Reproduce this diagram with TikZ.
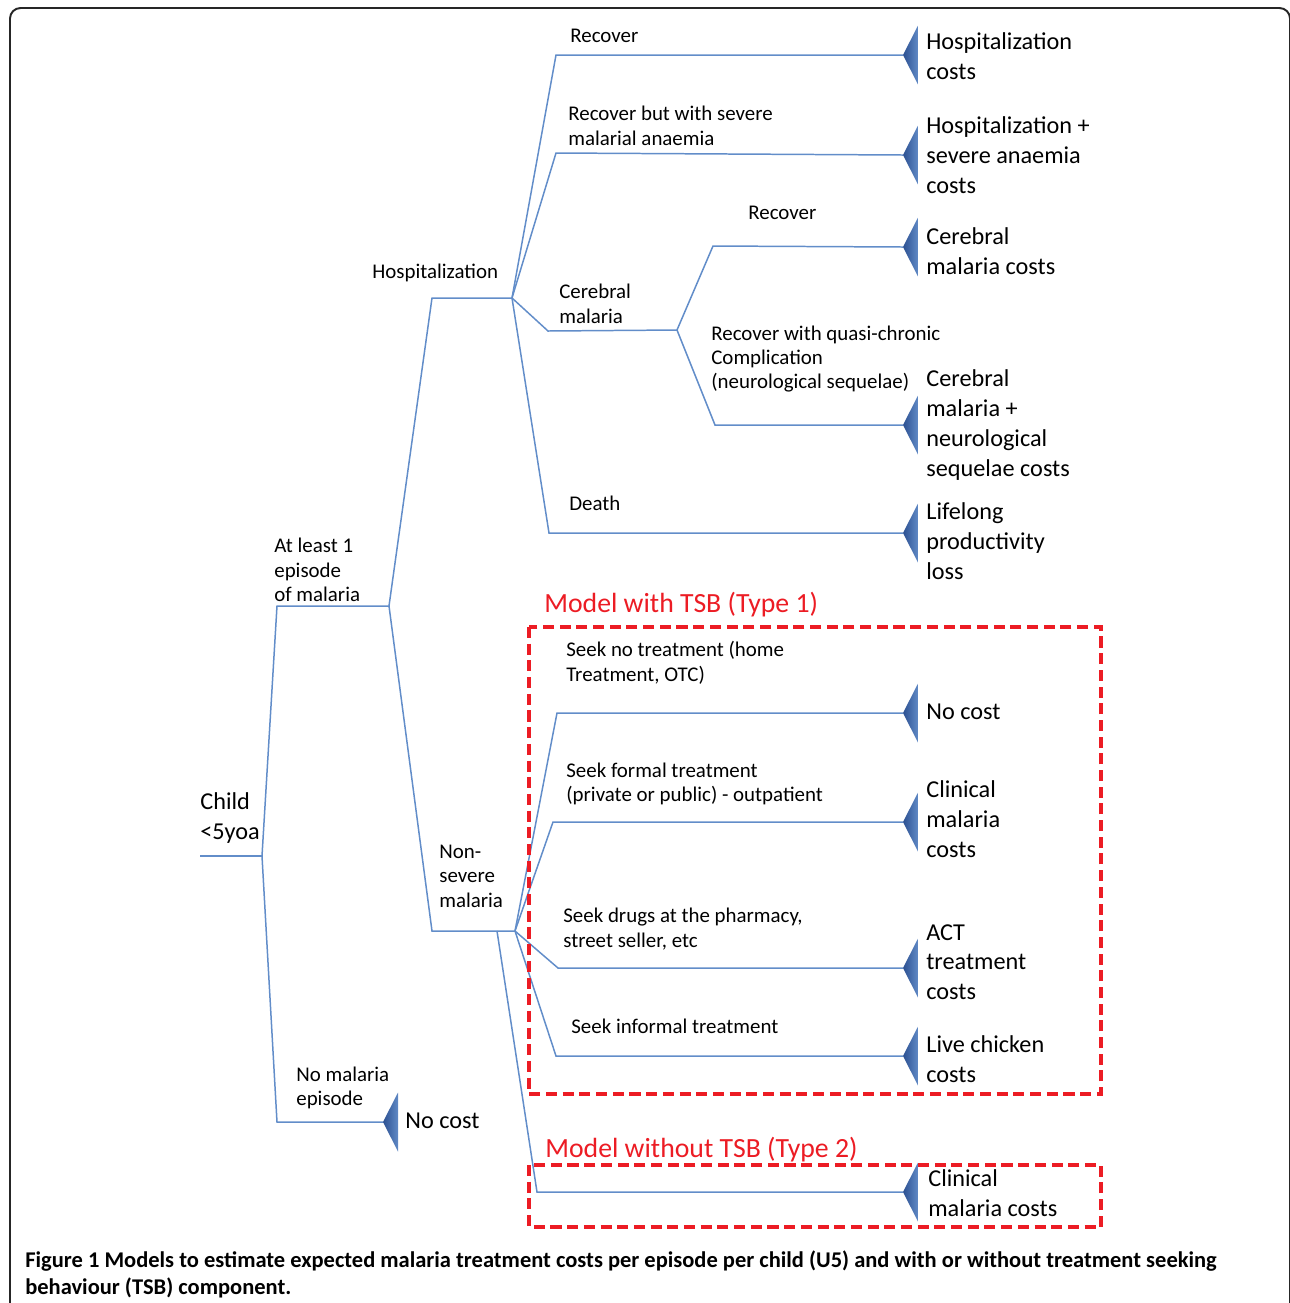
\documentclass[tikz,border=0pt]{standalone}
\usepackage{fontspec}
\setmainfont{Carlito}
\definecolor{twigblue}{RGB}{98,141,201}
\definecolor{capdark}{RGB}{44,80,145}
\definecolor{caplight}{RGB}{96,138,198}
\definecolor{modelred}{RGB}{236,28,36}

\begin{document}
\begin{tikzpicture}[x=0.02cm,y=-0.02cm,
  twig/.style={draw=twigblue,line width=0.85pt},
  lbl/.style={anchor=west,align=left,inner sep=0pt,font=\fontsize{11.9}{13.9}\selectfont},
  cost/.style={anchor=west,align=left,inner sep=0pt,font=\fontsize{13.8}{16.9}\selectfont},
  model/.style={anchor=west,inner sep=0pt,text=modelred,font=\fontsize{15.8}{19}\selectfont},
  tsbbox/.style={draw=modelred,line width=2.1pt,dash pattern=on 6.3pt off 3.2pt},
  capfill/.style={left color=capdark,right color=caplight}]
  \useasboundingbox (0,0) rectangle (1290,1303);
  \clip (0,0) rectangle (1290,1303);
  \draw[line width=1.1pt,black!85,rounded corners=6pt] (10,1340) -- (10,8) -- (1290,8) -- (1290,1340);

  % junctions
  \coordinate (root) at (200,856);
  \coordinate (child) at (262,856);
  \coordinate (ep) at (277,606);
  \coordinate (epJ) at (389,606);
  \coordinate (nm) at (277,1122);
  \coordinate (hosp) at (432,298);
  \coordinate (hospJ) at (512,298);
  \coordinate (nsv) at (432,931);
  \coordinate (nsvJ) at (515,931);
  \coordinate (nsvB) at (497,931);
  \coordinate (rec) at (556,55);
  \coordinate (anae) at (556,153);
  \coordinate (cer) at (548,331);
  \coordinate (cerJ) at (677,330);
  \coordinate (cerRec) at (713,246);
  \coordinate (seq) at (715,425);
  \coordinate (death) at (549,533);
  \coordinate (none) at (557,713);
  \coordinate (formal) at (553,822);
  \coordinate (drug) at (558,968);
  \coordinate (inf) at (556,1056);
  \coordinate (clin) at (537,1192);
  % tips
  \coordinate (t0) at (383,1122);
  \coordinate (t1) at (903,55);
  \coordinate (t2) at (903,155);
  \coordinate (t3) at (903,247);
  \coordinate (t4) at (903,425);
  \coordinate (t5) at (903,533);
  \coordinate (t6) at (903,713);
  \coordinate (t7) at (903,822);
  \coordinate (t8) at (903,968);
  \coordinate (t9) at (903,1056);
  \coordinate (t10) at (903,1192);

  \draw[twig] (root) -- (child);
  \draw[twig] (child) -- (ep) -- (epJ);
  \draw[twig] (child) -- (nm) -- (t0);
  \draw[twig] (epJ) -- (hosp) -- (hospJ);
  \draw[twig] (epJ) -- (nsv) -- (nsvJ);
  \draw[twig] (hospJ) -- (rec) -- (t1);
  \draw[twig] (hospJ) -- (anae) -- (t2);
  \draw[twig] (hospJ) -- (cer) -- (cerJ);
  \draw[twig] (cerJ) -- (cerRec) -- (t3);
  \draw[twig] (cerJ) -- (seq) -- (t4);
  \draw[twig] (hospJ) -- (death) -- (t5);
  \draw[twig] (nsvJ) -- (none) -- (t6);
  \draw[twig] (nsvJ) -- (formal) -- (t7);
  \draw[twig] (nsvJ) -- (drug) -- (t8);
  \draw[twig] (nsvJ) -- (inf) -- (t9);
  \draw[twig] (nsvB) -- (clin) -- (t10);

  \foreach \t in {t0,t1,t2,t3,t4,t5,t6,t7,t8,t9,t10}
    \shade[capfill] (\t) -- ++(15,-29.5) -- ++(0,59) -- cycle;

  \draw[tsbbox] (529,627) rectangle (1101,1094);
  \draw[tsbbox] (529,1165) rectangle (1101,1227);
  \node[model] (type1) at (544,605) {Model with TSB (Type 1)};
  \node[model] (type2) at (545,1150) {Model without TSB (Type 2)};

  \node[cost] (childlbl) at (200,818) {Child\\<5yoa};
  \node[lbl] (leastlbl) at (274,570) {At least 1\\episode\\of malaria};
  \node[lbl] (nomlbl) at (296,1088) {No malaria\\episode};
  \node[lbl] (hosplbl) at (372,273) {Hospitalization};
  \node[lbl] (nsvlbl) at (439,876) {Non-\\severe\\malaria};
  \node[lbl] (reclbl) at (570,36) {Recover};
  \node[lbl] (anaelbl) at (568,126) {Recover but with severe\\malarial anaemia};
  \node[lbl] (cerlbl) at (559,304) {Cerebral\\malaria};
  \node[lbl] (cerreclbl) at (748,213) {Recover};
  \node[lbl] (seqlbl) at (711,359) {Recover with quasi-chronic\\Complication\\(neurological sequelae)};
  \node[lbl] (deathlbl) at (569,503) {Death};
  \node[lbl] (nonelbl) at (566,663) {Seek no treatment (home\\Treatment, OTC)};
  \node[lbl] (formallbl) at (566,784) {Seek formal treatment\\(private or public) - outpatient};
  \node[lbl] (druglbl) at (563,929) {Seek drugs at the pharmacy,\\street seller, etc};
  \node[lbl] (inflbl) at (571,1026) {Seek informal treatment};

  \node[cost] (c0) at (405,1121) {No cost};
  \node[cost] (c1) at (926,56) {Hospitalization\\costs};
  \node[cost] (c2) at (926,155) {Hospitalization +\\severe anaemia\\costs};
  \node[cost] (c3) at (926,251) {Cerebral\\malaria costs};
  \node[cost] (c4) at (926,425) {Cerebral\\malaria +\\neurological\\sequelae costs};
  \node[cost] (c5) at (926,541) {Lifelong\\productivity\\loss};
  \node[cost] (c6) at (926,712) {No cost};
  \node[cost] (c7) at (926,819) {Clinical\\malaria\\costs};
  \node[cost] (c8) at (926,962) {ACT\\treatment\\costs};
  \node[cost] (c9) at (926,1059) {Live chicken\\costs};
  \node[cost] (c10) at (928,1193) {Clinical\\malaria costs};

  \node[anchor=west,align=left,inner sep=0pt,font=\fontsize{12.8}{15.3}\selectfont\bfseries] (caption) at (25,1274)
    {Figure 1 Models to estimate expected malaria treatment costs per episode per child (U5) and with or without treatment seeking\\behaviour (TSB) component.};
\end{tikzpicture}
\end{document}
